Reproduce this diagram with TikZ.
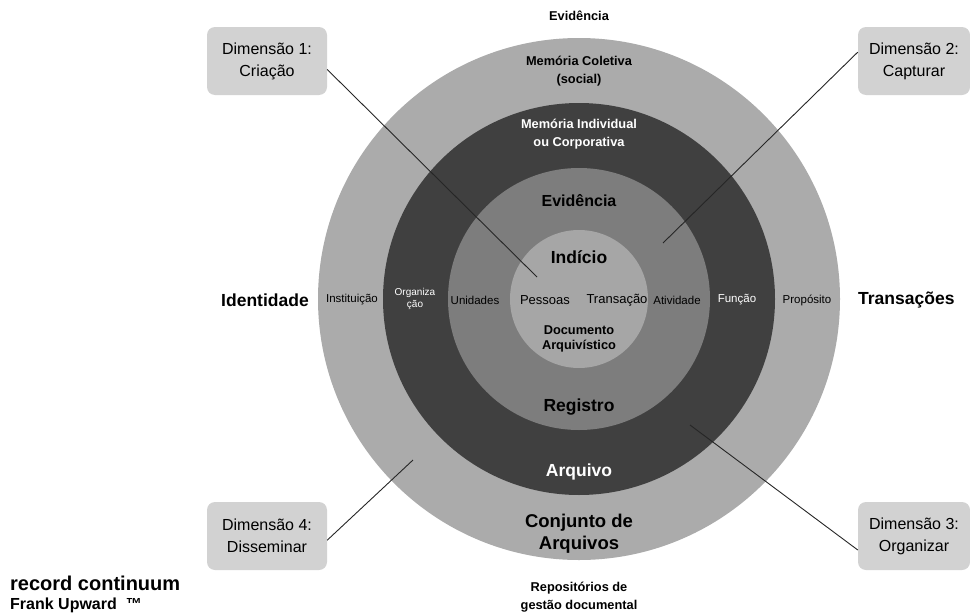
\documentclass[tikz,border=0pt]{standalone}
\usepackage{fontspec}
\setmainfont{Liberation Sans}
\usetikzlibrary{positioning}
\definecolor{ringouter}{gray}{0.67}
\definecolor{ringdark}{gray}{0.25}
\definecolor{ringmid}{gray}{0.49}
\definecolor{ringinner}{gray}{0.65}
\begin{document}
\begin{tikzpicture}[x=1pt,y=-1pt,
    every node/.style={inner sep=0pt,align=center},
    dimbox/.style={fill=gray!35,rounded corners=8pt,minimum width=120pt,minimum height=68pt,
      font=\fontsize{16}{22}\selectfont},
    link/.style={line width=0.9pt,black!85},
    lab/.style={font=\fontsize{11.5}{14}\selectfont},
    big/.style={font=\bfseries\fontsize{17.5}{22}\selectfont},
    small/.style={font=\bfseries\fontsize{12.8}{18}\selectfont}]
  \useasboundingbox (0,0) rectangle (970,613);
  \coordinate (c) at (579,299);
  \fill [ringouter] (c) circle (261pt);
  \fill [ringdark] (c) circle (196pt);
  \fill [ringmid] (c) circle (131pt);
  \fill [ringinner] (c) circle (69pt);
  \node [small] (ev0) at (579,16) {Evidência};
  \node [small] (memcol) at (579,71) {Memória Coletiva\\(social)};
  \node [small,white] (memind) at (579,134) {Memória Individual\\ou Corporativa};
  \node [big,font=\bfseries\fontsize{16}{20}\selectfont] (ev) at (579,201) {Evidência};
  \node [big] (ind) at (579,257) {Indício};
  \node [lab,font=\fontsize{13}{15}\selectfont] (pes) at (545,300) {Pessoas};
  \node [lab,font=\fontsize{13}{15}\selectfont] (tra) at (617,300) {Transação};
  \node [small,font=\bfseries\fontsize{12.8}{15.5}\selectfont] (doc) at (579,339) {Documento\\Arquivístico};
  \node [big] (reg) at (579,407) {Registro};
  \node [big,white] (arq) at (579,472) {Arquivo};
  \node [big,font=\bfseries\fontsize{18.5}{22}\selectfont] (conj) at (579,534) {Conjunto de\\Arquivos};
  \node [small] (rep) at (579,597) {Repositórios de\\gestão documental};
  \node [big] (iden) at (265,300) {Identidade};
  \node [lab] (inst) at (352,300) {Instituição};
  \node [lab,white,font=\fontsize{10}{12}\selectfont] (org) at (415,299) {Organiza\\ção};
  \node [lab] (uni) at (475,300) {Unidades};
  \node [lab] (ativ) at (677,300) {Atividade};
  \node [lab,white] (fun) at (737,300) {Função};
  \node [lab] (prop) at (807,300) {Propósito};
  \node [big,anchor=west] (trans) at (858,300) {Transações};
  \node [anchor=west,font=\bfseries\fontsize{20}{24}\selectfont] (rc) at (10,583) {record continuum};
  \node [anchor=west,font=\bfseries\fontsize{16}{18}\selectfont] (fu) at (10,605) {Frank Upward\ \ ™};
  \node [dimbox] (d1) at (267,61) {Dimensão 1:\\Criação};
  \node [dimbox,minimum width=112pt] (d2) at (914,61) {Dimensão 2:\\Capturar};
  \node [dimbox,minimum width=112pt] (d3) at (914,536) {Dimensão 3:\\Organizar};
  \node [dimbox] (d4) at (267,536) {Dimensão 4:\\Disseminar};
  \coordinate (p1) at (537,277);
  \coordinate (p2) at (663,243);
  \coordinate (p3) at (690,425);
  \coordinate (p4) at (413,460);
  \draw [link] (d1.-8) -- (p1);
  \draw [link] (d2.171) -- (p2);
  \draw [link] (d3.194) -- (p3);
  \draw [link] (d4.-4) -- (p4);
\end{tikzpicture}
\end{document}
